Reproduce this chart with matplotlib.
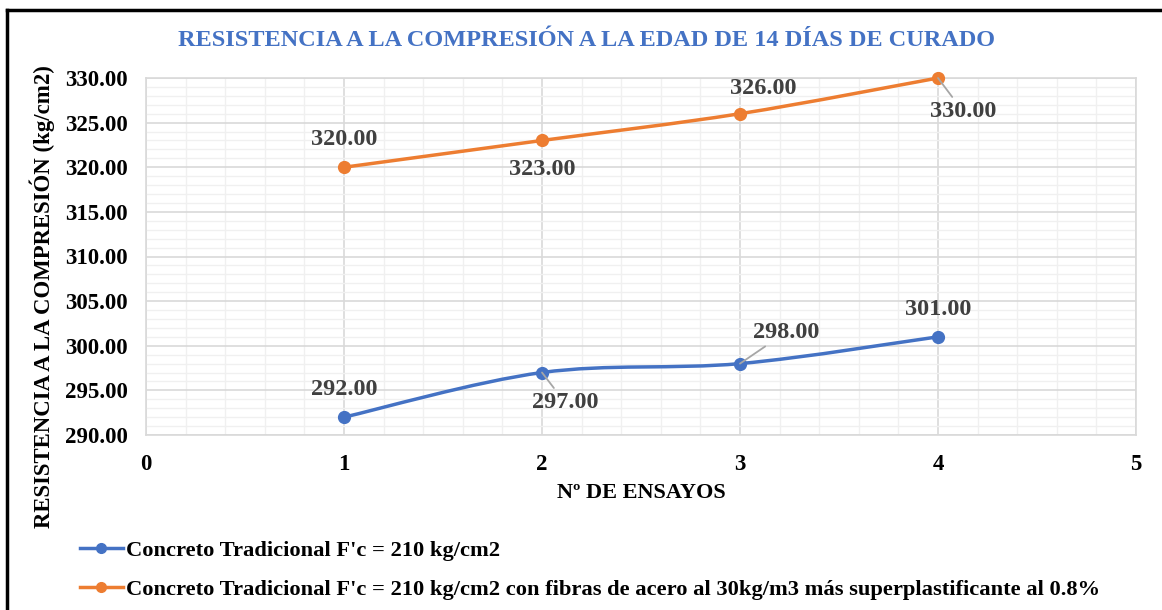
import matplotlib
matplotlib.use("Agg")
import matplotlib.pyplot as plt
from matplotlib.path import Path
from matplotlib.patches import PathPatch
from matplotlib.lines import Line2D
from matplotlib.ticker import MultipleLocator, FormatStrFormatter

# ---- data ----
ensayos = [1, 2, 3, 4]
tradicional = [292.0, 297.0, 298.0, 301.0]
con_fibras = [320.0, 323.0, 326.0, 330.0]
series_names = [
    "Concreto Tradicional F'c = 210 kg/cm2",
    "Concreto Tradicional F'c = 210 kg/cm2 con fibras de acero al 30kg/m3 más superplastificante al 0.8%",
]
title = "RESISTENCIA A LA COMPRESIÓN A LA EDAD DE 14 DÍAS DE CURADO"
xlabel = "Nº DE ENSAYOS"
ylabel = "RESISTENCIA A LA COMPRESIÓN (kg/cm2)"

# label offsets in points (dx, dy) and whether a leader line is drawn
trad_offsets = [(0, 20, False), (16.5, -21.5, True), (33, 22.5, True), (0, 19.5, False)]
fib_offsets = [(0, 20, False), (0, -21, False), (16.5, 18.5, False), (18, -24, True)]

BLUE = "#4472C4"
ORANGE = "#ED7D31"
SERIF = ["Liberation Serif", "DejaVu Serif"]

plt.rcParams["font.family"] = SERIF
plt.rcParams["font.weight"] = "bold"

fig = plt.figure(figsize=(11.62, 6.10), dpi=100)
ax = fig.add_axes([146 / 1162, 1 - 435 / 610, 990 / 1162, 357 / 610])

ax.set_xlim(0, 5)
ax.set_ylim(290, 330)
ax.xaxis.set_major_locator(MultipleLocator(1))
ax.xaxis.set_minor_locator(MultipleLocator(0.2))
ax.yaxis.set_major_locator(MultipleLocator(5))
ax.yaxis.set_minor_locator(MultipleLocator(1))
ax.yaxis.set_major_formatter(FormatStrFormatter("%.2f"))
ax.grid(which="minor", color="#F0F0F0", linewidth=1.0, zorder=0)
ax.grid(which="major", color="#D9D9D9", linewidth=1.2, zorder=0)
ax.set_axisbelow(True)
for s in ax.spines.values():
    s.set_color("#D9D9D9")
    s.set_linewidth(1.2)
ax.tick_params(which="both", length=0)
ax.tick_params(axis="y", pad=13, labelsize=16.5)
ax.tick_params(axis="x", pad=14, labelsize=16.5)
for lab in ax.get_xticklabels() + ax.get_yticklabels():
    lab.set_fontweight("bold")


def smooth_path(xs, ys):
    # Excel-like smoothed line through data points using cubic Bezier segments
    verts = [(xs[0], ys[0])]
    codes = [Path.MOVETO]
    n = len(xs)
    for i in range(n - 1):
        x0, y0 = (xs[i - 1], ys[i - 1]) if i > 0 else (xs[i], ys[i])
        x1, y1 = xs[i], ys[i]
        x2, y2 = xs[i + 1], ys[i + 1]
        x3, y3 = (xs[i + 2], ys[i + 2]) if i + 2 < n else (xs[i + 1], ys[i + 1])
        c1 = (x1 + (x2 - x0) / 6, y1 + (y2 - y0) / 6)
        c2 = (x2 - (x3 - x1) / 6, y2 - (y3 - y1) / 6)
        verts += [c1, c2, (x2, y2)]
        codes += [Path.CURVE4] * 3
    return Path(verts, codes)


def draw_series(xs, ys, color, offsets):
    ax.add_patch(PathPatch(smooth_path(xs, ys), facecolor="none", edgecolor=color,
                           linewidth=2.5, zorder=3, capstyle="round", clip_on=False))
    ax.plot(xs, ys, linestyle="none", marker="o", markersize=8.5, color=color,
            zorder=4, clip_on=False)
    for x, y, (dx, dy, leader) in zip(xs, ys, offsets):
        ax.annotate(f"{y:.2f}", (x, y), xytext=(dx, dy), textcoords="offset points",
                    ha="center", va="center", fontsize=17.5, fontweight="bold",
                    color="#404040", zorder=5, annotation_clip=False,
                    arrowprops=dict(arrowstyle="-", color="#A6A6A6", lw=1.3,
                                    shrinkA=1, shrinkB=0) if leader else None)


draw_series(ensayos, tradicional, BLUE, trad_offsets)
draw_series(ensayos, con_fibras, ORANGE, fib_offsets)

ax.set_xlabel(xlabel, fontsize=16, fontweight="bold")
ax.xaxis.set_label_coords(0.5, (435 - 493) / 357)
ax.set_ylabel(ylabel, fontsize=16.4, fontweight="bold")
ax.yaxis.set_label_coords((42 - 146) / 990, (435 - 297) / 357)
ax.xaxis.label.set_va("center")
ax.yaxis.label.set_va("center")

fig.text(587 / 1162, 1 - 40 / 610, title, ha="center", va="center",
         fontsize=17.5, fontweight="bold", color=BLUE)

handles = [Line2D([], [], color=BLUE, marker="o", markersize=7, linewidth=2.5),
           Line2D([], [], color=ORANGE, marker="o", markersize=7, linewidth=2.5)]
fig.legend(handles, series_names, loc="upper left",
           bbox_to_anchor=(80 / 1162, 1 - 540 / 610), frameon=False,
           prop=dict(family=SERIF, weight="bold", size=16.2),
           handlelength=1.9, handletextpad=0.15, labelspacing=0.8, borderpad=0,
           borderaxespad=0)

# figure border (top and left)
fig.add_artist(Line2D([7 / 1162, 1], [1 - 10 / 610, 1 - 10 / 610], color="black",
                      linewidth=2.5, transform=fig.transFigure))
fig.add_artist(Line2D([7 / 1162, 7 / 1162], [0, 1 - 10 / 610], color="black",
                      linewidth=2.5, transform=fig.transFigure))

fig.savefig("out.png", dpi=100)
